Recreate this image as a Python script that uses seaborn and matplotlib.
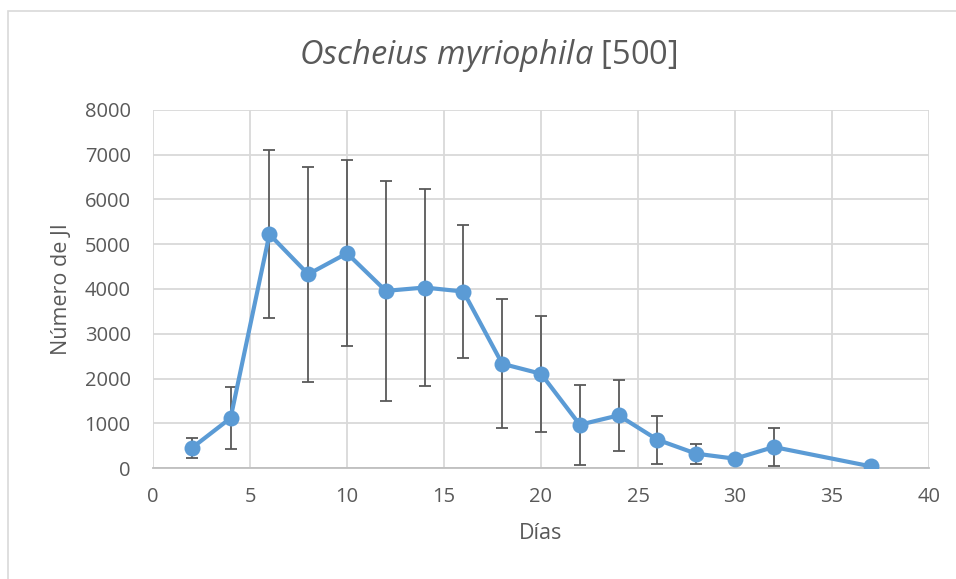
import matplotlib
matplotlib.use("Agg")
import matplotlib.pyplot as plt
import seaborn as sns
import pandas as pd
from matplotlib.patches import Rectangle

dias = [2, 4, 6, 8, 10, 12, 14, 16, 18, 20, 22, 24, 26, 28, 30, 32, 37]
media = [446, 1116, 5223, 4330, 4799, 3958, 4033, 3943, 2329, 2106, 967, 1176, 632, 320, 208, 469, 37]
error = [224, 692, 1875, 2404, 2083, 2459, 2192, 1477, 1444, 1295, 895, 797, 532, 227, 0, 435, 0]
x_ticks = [0, 5, 10, 15, 20, 25, 30, 35, 40]
y_ticks = [0, 1000, 2000, 3000, 4000, 5000, 6000, 7000, 8000]

df = pd.DataFrame({"Días": dias, "Número de JI": media, "err": error})

sns.set_theme(style="white")
plt.rcParams["font.family"] = ["Open Sans", "DejaVu Sans"]
plt.rcParams["mathtext.fontset"] = "custom"
plt.rcParams["mathtext.it"] = "Open Sans:italic"
plt.rcParams["mathtext.rm"] = "Open Sans"

W, H = 956, 579
fig = plt.figure(figsize=(W / 100, H / 100), dpi=100)
ax = fig.add_axes([153 / W, 1 - 468 / H, (929 - 153) / W, (468 - 110) / H])

text_c = "#595959"
grid_c = "#d9d9d9"
blue = "#5B9BD5"

ax.errorbar(df["Días"], df["Número de JI"], yerr=df["err"], fmt="none",
            ecolor="#595959", elinewidth=1.3, capsize=4.5, capthick=1.3, zorder=3)
sns.lineplot(data=df, x="Días", y="Número de JI", ax=ax, color=blue,
             linewidth=3.0, marker="o", markersize=11.5, markeredgewidth=0,
             zorder=4)

ax.set_xlim(0, 40)
ax.set_ylim(0, 8000)
ax.set_xticks(x_ticks)
ax.set_yticks(y_ticks)
ax.set_xticklabels([str(v) for v in x_ticks])
ax.set_yticklabels([str(v) for v in y_ticks])
ax.grid(True, color=grid_c, linewidth=1.3)
ax.set_axisbelow(True)
for s in ["top", "right", "left"]:
    ax.spines[s].set_visible(False)
ax.spines["bottom"].set_color("#bfbfbf")
ax.spines["bottom"].set_linewidth(1.3)
ax.tick_params(axis="both", colors=grid_c, labelcolor=text_c, labelsize=14.5,
               length=6, width=1.3, direction="out")
ax.tick_params(axis="x", pad=8)
ax.tick_params(axis="y", pad=10)

ax.set_xlabel("Días", fontsize=15.5, color=text_c, labelpad=11)
ax.set_ylabel("Número de JI", fontsize=15.5, color=text_c, labelpad=9)

fig.text(488 / W, 1 - 56 / H, r"$\it{Oscheius\ myriophila}$ [500]",
         ha="center", va="center", fontsize=23.5, color=text_c)

fig.patches.append(Rectangle((8 / W, -0.1), 1.2, 1.1 - 11 / H,
                             transform=fig.transFigure, fill=False,
                             edgecolor=grid_c, linewidth=1.2))

fig.savefig("out.png", dpi=100, facecolor="white")
